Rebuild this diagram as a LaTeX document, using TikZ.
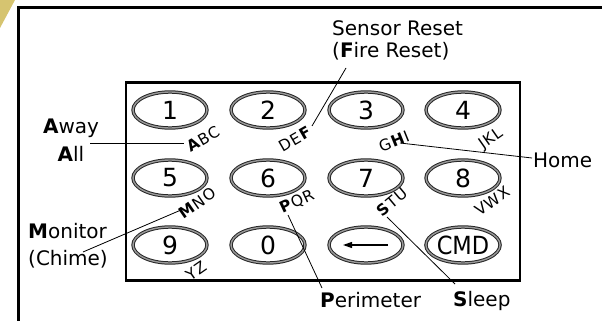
\documentclass[tikz,border=0pt]{standalone}
\usepackage{fontspec}
\setmainfont{DejaVu Sans}
\newfontfamily\condfont{DejaVu Sans Condensed}
\newfontfamily\spacedfont[LetterSpace=6]{DejaVu Sans}
\usetikzlibrary{arrows.meta,shapes.geometric}
\definecolor{gold}{RGB}{214,196,112}
\begin{document}
\begin{tikzpicture}[x=1pt,y=-1pt,
  keyshape/.style={ellipse, minimum width=74pt, minimum height=36pt, inner sep=0pt,
    draw=black!85, line width=1pt, double=black!40, double distance=1.4pt,
    font=\fontsize{25}{25}\selectfont},
  letters/.style={inner sep=0pt, font=\spacedfont\fontsize{15.5}{15.5}\selectfont},
  lbl/.style={inner sep=0pt, anchor=base west, font=\fontsize{20}{24}\selectfont},
  lblc/.style={inner sep=0pt, anchor=base, font=\fontsize{20}{24}\selectfont},
  leader/.style={line width=0.8pt},
  frameline/.style={line width=3.4pt},
  boxline/.style={line width=2.8pt}]
\useasboundingbox (0,0) rectangle (602,321);
% corner decoration
\fill[gold] (0,0) -- (15,0) -- (0,28) -- cycle;
% outer frame
\coordinate (fl) at (18.5,321);
\coordinate (fc) at (18.5,7.5);
\coordinate (fr) at (602,7.5);
\draw[frameline] (fl) -- (fc) -- (fr);
% keypad box
\node[boxline, draw, minimum width=394pt, minimum height=198pt, inner sep=0pt] (box) at (323,181.5) {};
% keys
\node[keyshape] (k1) at (170,110) {1};
\node[keyshape] (k2) at (268,110) {2};
\node[keyshape] (k3) at (366,110) {3};
\node[keyshape] (k4) at (463,110) {4};
\node[keyshape] (k5) at (170,178) {5};
\node[keyshape] (k6) at (268,178) {6};
\node[keyshape] (k7) at (366,178) {7};
\node[keyshape] (k8) at (463,178) {8};
\node[keyshape] (k9) at (170,245) {9};
\node[keyshape] (k0) at (268,245) {0};
\node[keyshape] (kb) at (366,245) {};
\node[keyshape] (kc) at (463,245) {\condfont CMD};
\coordinate (bl) at (343,245);
\coordinate (br) at (388,245);
\draw[line width=1.2pt, -{Triangle[length=9pt,width=6pt]}] (br) -- (bl);
% letters
\node[letters, rotate=30] (lABC) at (203,139) {\textbf{A}BC};
\node[letters, rotate=30] (lDEF) at (295,139) {DE\textbf{F}};
\node[letters, rotate=22] (lGHI) at (394,141) {G\textbf{H}I};
\node[letters, rotate=35] (lJKL) at (491,139) {JKL};
\node[letters, rotate=35] (lMNO) at (197,203) {\textbf{M}NO};
\node[letters, rotate=25] (lPQR) at (297,202) {\textbf{P}QR};
\node[letters, rotate=40] (lSTU) at (392,202) {\textbf{S}TU};
\node[letters, rotate=35] (lVWX) at (492,201) {VWX};
\node[letters, rotate=35] (lYZ) at (196,271) {YZ};
% labels
\node[lblc] (away) at (71,133) {\textbf{A}way};
\node[lblc] (all) at (71,161) {\textbf{A}ll};
\node[lbl] (sensor) at (332,36) {Sensor Reset};
\node[lbl] (fire) at (332,57) {(\textbf{F}ire Reset)};
\node[lbl] (home) at (533,167) {Home};
\node[lbl] (monitor) at (28,238) {\textbf{M}onitor};
\node[lbl] (chime) at (28,265) {(Chime)};
\node[lbl] (perim) at (320,307) {\textbf{P}erimeter};
\node[lbl] (sleep) at (453,306) {\textbf{S}leep};
% leader lines
\coordinate (a1) at (90,143);   \coordinate (a2) at (184,143);
\coordinate (f1) at (346,68);   \coordinate (f2) at (312,126);
\coordinate (h1) at (400,143);  \coordinate (h2) at (532,158);
\coordinate (m1) at (83,252);   \coordinate (m2) at (181,210);
\coordinate (p1) at (288,215);  \coordinate (p2) at (322,288);
\coordinate (s1) at (387,217);  \coordinate (s2) at (455,284);
\draw[leader] (a1) -- (a2);
\draw[leader] (f1) -- (f2);
\draw[leader] (h1) -- (h2);
\draw[leader] (m1) -- (m2);
\draw[leader] (p1) -- (p2);
\draw[leader] (s1) -- (s2);
\end{tikzpicture}
\end{document}
